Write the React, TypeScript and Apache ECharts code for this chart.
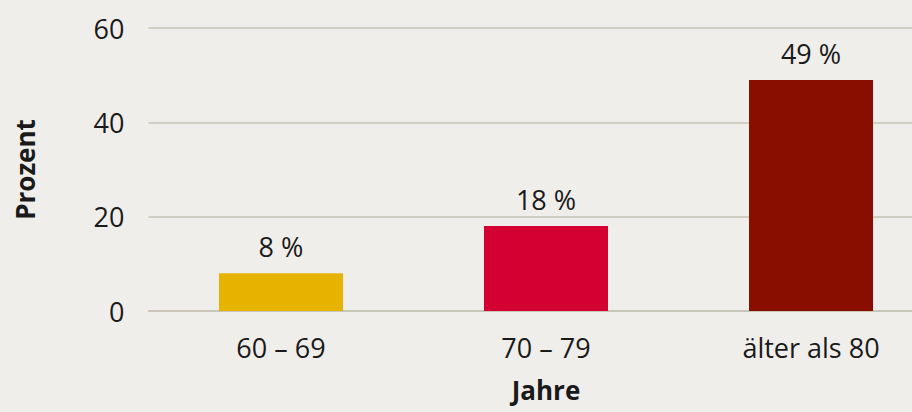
import React, { useEffect, useRef } from "react";
import * as echarts from "echarts";

const categories = ["60 – 69", "70 – 79", "älter als 80"];
const values = [8, 18, 49];
const barColors = ["#e6b400", "#d40032", "#8a0e00"];
const yTicks = { min: 0, max: 60, interval: 20 };

export default function App() {
  const ref = useRef<HTMLDivElement>(null);
  useEffect(() => {
    if (!ref.current) return;
    const chart = echarts.init(ref.current, null, { renderer: "svg" });
    const font = "'Open Sans', sans-serif";
    chart.setOption({
      animation: false,
      backgroundColor: "#f0eeea",
      textStyle: { fontFamily: font },
      grid: {
        left: 148.5,
        right: -31.5,
        top: 28,
        bottom: 101,
        containLabel: false,
        outerBoundsMode: "none",
      },
      xAxis: {
        type: "category",
        data: categories,
        name: "Jahre",
        nameLocation: "middle",
        nameGap: 67,
        nameTextStyle: {
          fontSize: 26,
          lineHeight: 24,
          fontWeight: "bold",
          color: "#1a1a1a",
          fontFamily: font,
        },
        axisLine: { show: true, lineStyle: { color: "#c6c2b6", width: 1.5 } },
        axisTick: { show: false },
        axisLabel: { fontSize: 27, color: "#1a1a1a", margin: 23, fontFamily: font },
      },
      yAxis: {
        type: "value",
        min: yTicks.min,
        max: yTicks.max,
        interval: yTicks.interval,
        name: "Prozent",
        nameLocation: "middle",
        nameGap: 111,
        nameTextStyle: { fontSize: 26, fontWeight: "bold", color: "#1a1a1a", fontFamily: font },
        axisLine: { show: false },
        axisTick: { show: false },
        axisLabel: { fontSize: 27, color: "#1a1a1a", margin: 24, fontFamily: font },
        splitLine: { lineStyle: { color: "#c6c2b6", width: 1.5 } },
      },
      series: [
        {
          type: "bar",
          barWidth: 124,
          data: values.map((v, i) => ({ value: v, itemStyle: { color: barColors[i] } })),
          label: {
            show: true,
            position: "top",
            distance: 13,
            fontSize: 27,
            color: "#1a1a1a",
            fontFamily: font,
            formatter: (p: any) => `${p.value} %`,
          },
        },
      ],
    });
    return () => chart.dispose();
  }, []);
  return (
    <div
      ref={ref}
      style={{ position: "fixed", left: 0, top: 0, width: 912, height: 412 }}
    />
  );
}
